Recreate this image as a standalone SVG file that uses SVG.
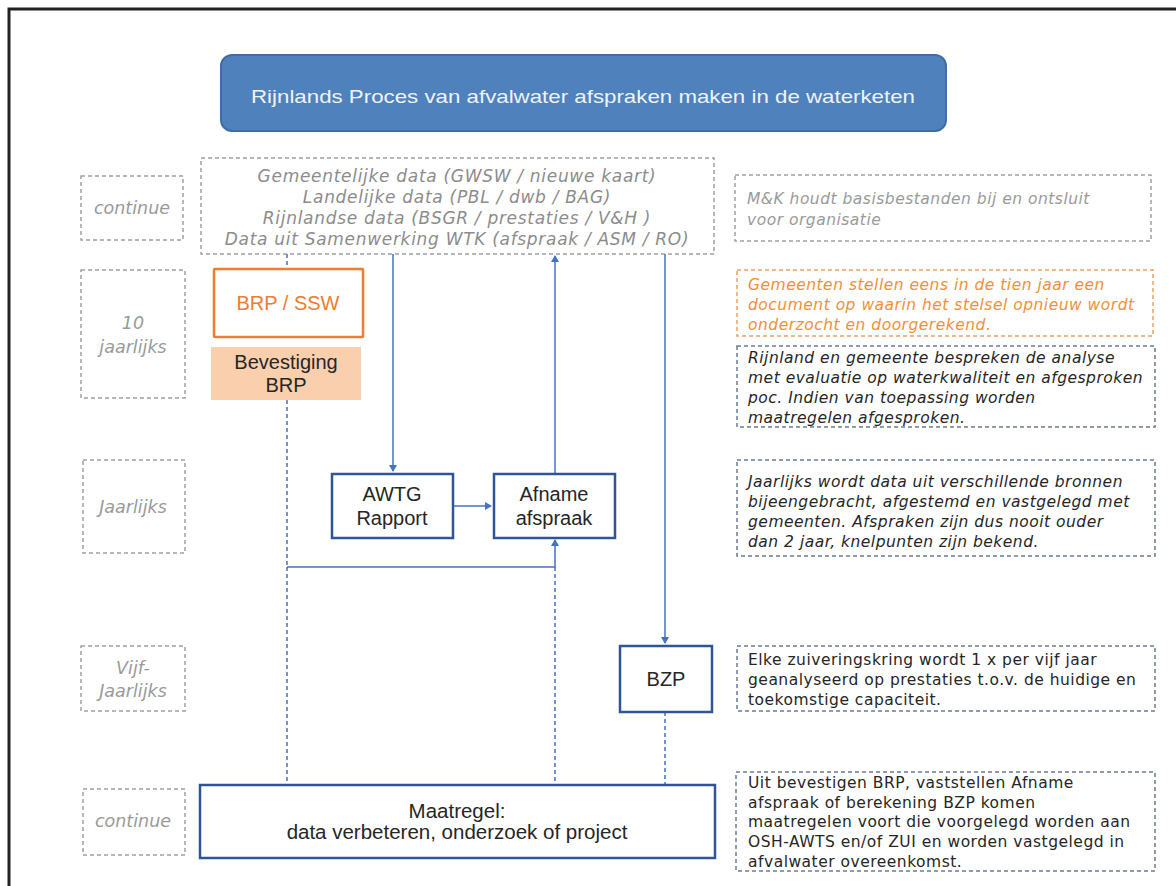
<svg xmlns="http://www.w3.org/2000/svg" width="1176" height="886" viewBox="0 0 1176 886">
<defs>
<marker id="arr" markerWidth="8" markerHeight="8" refX="6" refY="4" orient="auto" markerUnits="userSpaceOnUse">
<path d="M0,0 L7,4 L0,8 Z" fill="#4472c4"/>
</marker>
<style>
.frame{fill:none;stroke:#222;stroke-width:3}
.gbox{fill:none;stroke:#a0a0a0;stroke-width:1.5;stroke-dasharray:4 3}
.obox{fill:none;stroke:#f0a060;stroke-width:1.5;stroke-dasharray:4 3}
.bbox{fill:none;stroke:#6a7b96;stroke-width:1.5;stroke-dasharray:4 3}
.node{fill:#fff;stroke:#2f5597;stroke-width:2.5}
.lbl{font-family:"DejaVu Sans",Verdana,sans-serif;font-style:italic;font-size:17.5px;fill:#9a9a9a;text-anchor:middle}
.data{font-family:"DejaVu Sans",Verdana,sans-serif;font-style:italic;font-size:17px;letter-spacing:0.7px;fill:#8c8c8c;text-anchor:middle}
.note{font-family:"DejaVu Sans",Verdana,sans-serif;font-size:15.5px;letter-spacing:0.5px;fill:#262626}
.it{font-style:italic}
.nt{font-family:"Liberation Sans",Arial,sans-serif;font-size:20px;fill:#262626;text-anchor:middle}
.c{fill:none;stroke:#4472c4;stroke-width:1.5}
.cd{fill:none;stroke:#4472c4;stroke-width:1.5;stroke-dasharray:4 3}
</style>
</defs>
<rect x="0" y="0" width="1176" height="886" fill="#fff"/>
<rect class="frame" x="9" y="9" width="1185" height="900"/>

<g id="title">
<rect x="221" y="55" width="725" height="76" rx="11" fill="#4f81bd" stroke="#3f6ea6" stroke-width="2"/>
<text x="583" y="103" font-family="Liberation Sans,Arial,sans-serif" font-size="19" fill="#eef3fa" text-anchor="middle" textLength="664" lengthAdjust="spacingAndGlyphs">Rijnlands Proces van afvalwater afspraken maken in de waterketen</text>
</g>

<g id="lbl-continue-top">
<rect class="gbox" x="81" y="176" width="102" height="64"/>
<text class="lbl" x="132" y="214">continue</text>
</g>
<g id="lbl-10jaarlijks">
<rect class="gbox" x="81" y="270" width="104" height="128"/>
<text class="lbl" x="133" y="329">10</text>
<text class="lbl" x="133" y="353">jaarlijks</text>
</g>
<g id="lbl-jaarlijks">
<rect class="gbox" x="83" y="460" width="102" height="93"/>
<text class="lbl" x="133" y="513">Jaarlijks</text>
</g>
<g id="lbl-vijf">
<rect class="gbox" x="81" y="646" width="104" height="65"/>
<text class="lbl" x="133" y="674">Vijf-</text>
<text class="lbl" x="133" y="697">Jaarlijks</text>
</g>
<g id="lbl-continue-bottom">
<rect class="gbox" x="83" y="789" width="102" height="66"/>
<text class="lbl" x="133" y="827">continue</text>
</g>

<g id="data">
<rect class="gbox" x="201" y="158" width="513" height="96"/>
<text class="data" x="457" y="182">Gemeentelijke data (GWSW / nieuwe kaart)</text>
<text class="data" x="457" y="203">Landelijke data (PBL / dwb / BAG)</text>
<text class="data" x="457" y="224">Rijnlandse data (BSGR / prestaties / V&amp;H )</text>
<text class="data" x="457" y="245">Data uit Samenwerking WTK (afspraak / ASM / RO)</text>
</g>

<g id="connectors">
<line class="cd" x1="287" y1="254" x2="287" y2="268"/>
<line class="cd" x1="287" y1="400" x2="287" y2="567"/>
<polyline class="c" points="287,567 555,567 555,540" marker-end="url(#arr)"/>
<line class="cd" x1="287" y1="567" x2="287" y2="785"/>
<line class="cd" x1="555" y1="567" x2="555" y2="785"/>
<line class="c" x1="393" y1="254" x2="393" y2="471" marker-end="url(#arr)"/>
<line class="c" x1="555" y1="473" x2="555" y2="256" marker-end="url(#arr)"/>
<line class="c" x1="665" y1="254" x2="665" y2="643" marker-end="url(#arr)"/>
<line class="c" x1="453" y1="506" x2="491" y2="506" marker-end="url(#arr)"/>
<line class="cd" x1="665" y1="712" x2="665" y2="785"/>
</g>

<g id="brp-ssw">
<rect x="214" y="269" width="149" height="68" fill="#fff" stroke="#ed7d31" stroke-width="2.5" rx="1"/>
<text class="nt" x="288" y="310" style="fill:#ed7d31">BRP / SSW</text>
</g>
<g id="bevestiging">
<rect x="211" y="347" width="150" height="53" fill="#f9cfae"/>
<text class="nt" x="286" y="369">Bevestiging</text>
<text class="nt" x="286" y="392">BRP</text>
</g>
<g id="awtg">
<rect class="node" x="332" y="474" width="121" height="64"/>
<text class="nt" x="392" y="501">AWTG</text>
<text class="nt" x="392" y="525">Rapport</text>
</g>
<g id="afname">
<rect class="node" x="494" y="474" width="121" height="64"/>
<text class="nt" x="554" y="501">Afname</text>
<text class="nt" x="554" y="525">afspraak</text>
</g>
<g id="bzp">
<rect class="node" x="620" y="646" width="92" height="66"/>
<text class="nt" x="666" y="686">BZP</text>
</g>
<g id="maatregel">
<rect class="node" x="200" y="785" width="515" height="73"/>
<text class="nt" x="457" y="818" style="font-size:20.5px">Maatregel:</text>
<text class="nt" x="457" y="839" style="font-size:20.5px">data verbeteren, onderzoek of project</text>
</g>

<g id="note-mk">
<rect class="gbox" x="735" y="175" width="416" height="66"/>
<text class="note it" x="747" y="204" style="fill:#9a9a9a">M&amp;K houdt basisbestanden bij en ontsluit</text>
<text class="note it" x="747" y="225" style="fill:#9a9a9a">voor organisatie</text>
</g>
<g id="note-gemeenten">
<rect class="obox" x="737" y="270" width="416" height="66"/>
<text class="note it" x="748" y="290" style="fill:#f0903a">Gemeenten stellen eens in de tien jaar een</text>
<text class="note it" x="748" y="310" style="fill:#f0903a">document op waarin het stelsel opnieuw wordt</text>
<text class="note it" x="748" y="330" style="fill:#f0903a">onderzocht en doorgerekend.</text>
</g>
<g id="note-rijnland">
<rect class="bbox" x="737" y="346" width="418" height="81"/>
<text class="note it" x="748" y="363">Rijnland en gemeente bespreken de analyse</text>
<text class="note it" x="748" y="383">met evaluatie op waterkwaliteit en afgesproken</text>
<text class="note it" x="748" y="403">poc. Indien van toepassing worden</text>
<text class="note it" x="748" y="423">maatregelen afgesproken.</text>
</g>
<g id="note-jaarlijks">
<rect class="bbox" x="737" y="460" width="418" height="96"/>
<text class="note it" x="748" y="487">Jaarlijks wordt data uit verschillende bronnen</text>
<text class="note it" x="748" y="507">bijeengebracht, afgestemd en vastgelegd met</text>
<text class="note it" x="748" y="527">gemeenten. Afspraken zijn dus nooit ouder</text>
<text class="note it" x="748" y="547">dan 2 jaar, knelpunten zijn bekend.</text>
</g>
<g id="note-elke">
<rect class="bbox" x="737" y="646" width="418" height="65"/>
<text class="note" x="748" y="665">Elke zuiveringskring wordt 1 x per vijf jaar</text>
<text class="note" x="748" y="685">geanalyseerd op prestaties t.o.v. de huidige en</text>
<text class="note" x="748" y="705">toekomstige capaciteit.</text>
</g>
<g id="note-uit">
<rect class="bbox" x="736" y="772" width="419" height="99"/>
<text class="note" x="748" y="788">Uit bevestigen BRP, vaststellen Afname</text>
<text class="note" x="748" y="808">afspraak of berekening BZP komen</text>
<text class="note" x="748" y="827">maatregelen voort die voorgelegd worden aan</text>
<text class="note" x="748" y="847">OSH-AWTS en/of ZUI en worden vastgelegd in</text>
<text class="note" x="748" y="867">afvalwater overeenkomst.</text>
</g>
</svg>
